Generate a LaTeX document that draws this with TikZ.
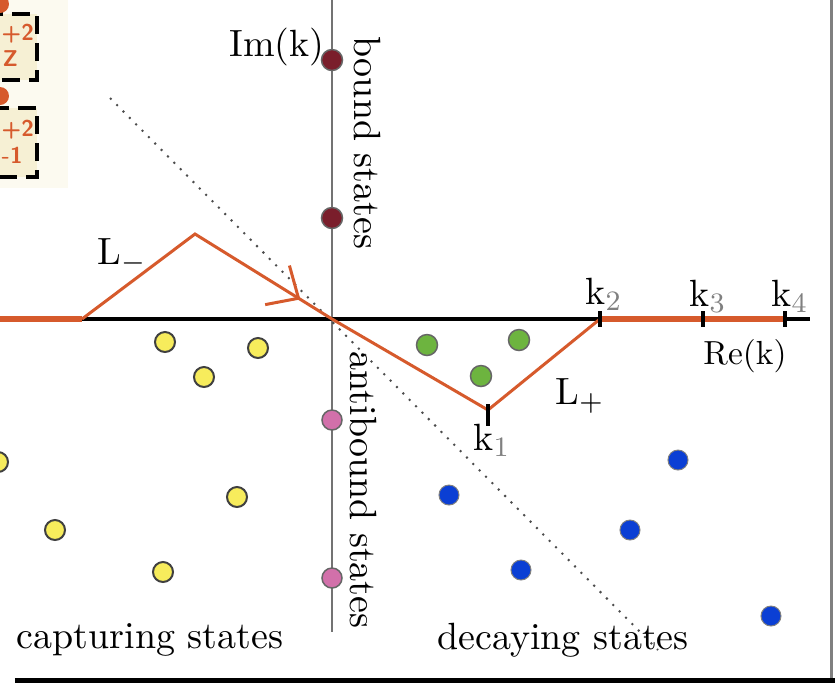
\documentclass[tikz,border=0pt]{standalone}
\usetikzlibrary{arrows.meta,decorations.markings}
\definecolor{contour}{HTML}{D65A2C}
\definecolor{bound}{HTML}{7A1E2B}
\definecolor{antibound}{HTML}{D270AA}
\definecolor{capture}{HTML}{F7EC5C}
\definecolor{resonance}{HTML}{6DB43F}
\definecolor{decay}{HTML}{0B3FD4}
\definecolor{panel}{HTML}{F6F0D4}

\begin{document}
\begin{tikzpicture}[x=0.1mm,y=-0.1mm,font=\fontsize{10.8}{13}\selectfont,
  charge/.style={text=contour,font=\sffamily\bfseries\fontsize{6.5}{8}\selectfont,anchor=west,inner sep=0pt}]
  \useasboundingbox (0,0) rectangle (835,685);
  % Cut-off panel, top left
  \begin{scope}
    \clip (0,0) rectangle (68,188);
    \fill[panel!35] (0,0) rectangle (68,188);
    \fill[panel] (-40,14) rectangle (37,80);
    \fill[panel] (-40,108) rectangle (37,177);
    \draw[line width=0.45mm,dash pattern=on 1.8mm off 0.9mm] (-40,14) rectangle (37,80);
    \draw[line width=0.45mm,dash pattern=on 1.8mm off 0.9mm] (-40,108) rectangle (37,177);
    \fill[contour] (0,4) circle (0.9mm);
    \fill[contour] (0,96) circle (0.9mm);
  \end{scope}
  \node[charge] (n1) at (1,34) {+2};
  \node[charge] (z1) at (2,59) {Z};
  \node[charge] (n2) at (1,130) {+2};
  \node[charge] (z2) at (1,155) {-1};
  % Frame
  \draw[gray,line width=0.3mm] (832,0) -- (832,680);
  \draw[line width=0.5mm] (15,680) -- (835,680);
  % Points on the contour
  \coordinate (start) at (0,319);
  \coordinate (bend) at (82,319);
  \coordinate (peak) at (195,234);
  \coordinate (O) at (332,319);
  \coordinate (k1) at (488,410);
  \coordinate (k2) at (600,319);
  \coordinate (k3) at (703,319);
  \coordinate (k4) at (785,319);
  % Axes
  \draw[black!55,line width=0.2mm] (332,0) -- (332,632);
  \draw[line width=0.4mm] (start) -- (810,319);
  \draw[black!70,dotted,line width=0.2mm] (110,98) -- (658,650);
  % Contour
  \draw[contour,line width=0.55mm] (start) -- (bend);
  \draw[contour,line width=0.3mm] (bend) -- (peak) -- (O) -- (k1) -- (k2);
  \path[decoration={markings,mark=at position 0.77 with {\arrow[contour,line width=0.3mm]{Straight Barb[length=2.5mm,width=4.6mm]}}},decorate] (peak) -- (O);
  \draw[contour,line width=0.55mm] (k2) -- (k4);
  % Ticks
  \foreach \k in {k2,k3,k4}
    \draw[line width=0.45mm] ([yshift=0.8mm]\k) -- ([yshift=-0.8mm]\k);
  \draw[line width=0.35mm] ([yshift=0.6mm]k1) -- ([yshift=-1.6mm]k1);
  % Labels
  \node (lk1) at (492,440) {k{\color{gray}$_1$}};
  \node (lk2) at (604,294) {k{\color{gray}$_2$}};
  \node (lk3) at (708,296) {k{\color{gray}$_3$}};
  \node (lk4) at (790,296) {k{\color{gray}$_4$}};
  \node[font=\fontsize{9.5}{11}\selectfont] (re) at (745,356) {Re(k)};
  \node (im) at (277,47) {Im(k)};
  \node (lminus) at (122,256) {L$_{-}$};
  \node (lplus) at (580,396) {L$_{+}$};
  \node[rotate=-90] (bs) at (367,143) {bound states};
  \node[rotate=-90] (as) at (363,490) {antibound states};
  \node (cs) at (150,640) {capturing states};
  \node (ds) at (563,640) {decaying states};
  % Poles
  \foreach \x/\y in {332/60,332/218}
    \filldraw[draw=black!60,fill=bound,line width=0.15mm] (\x,\y) circle (1.05mm);
  \foreach \x/\y in {332/420,332/578}
    \filldraw[draw=black!60,fill=antibound,line width=0.15mm] (\x,\y) circle (1mm);
  \foreach \x/\y in {165/342,258/348,204/377,237/497,55/530,163/572,-2/462}
    \filldraw[draw=black!75,fill=capture,line width=0.2mm] (\x,\y) circle (1mm);
  \foreach \x/\y in {427/345,519/340,481/376}
    \filldraw[draw=black!60,fill=resonance,line width=0.15mm] (\x,\y) circle (1.05mm);
  \foreach \x/\y in {449/495,678/460,630/530,521/570,771/616}
    \filldraw[draw=black!50,fill=decay,line width=0.1mm] (\x,\y) circle (1mm);
\end{tikzpicture}
\end{document}
